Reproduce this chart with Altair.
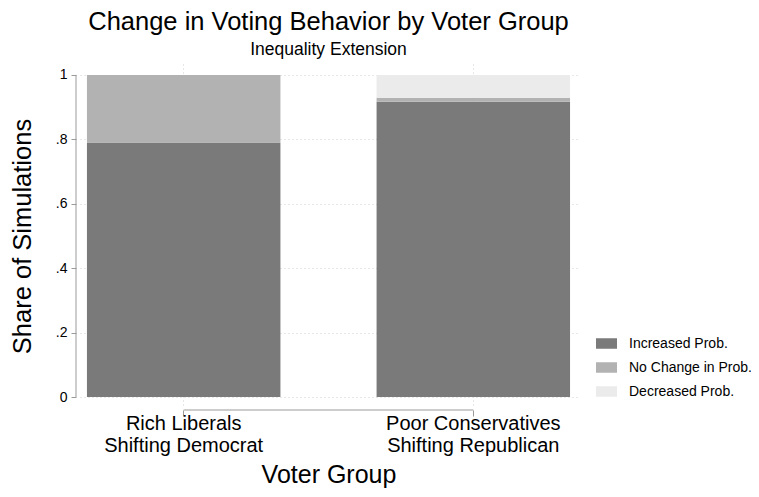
import altair as alt
import pandas as pd

groups = ["Rich Liberals\nShifting Democrat", "Poor Conservatives\nShifting Republican"]
outcomes = ["Increased Prob.", "No Change in Prob.", "Decreased Prob."]
increased = [0.79, 0.917]
no_change = [0.21, 0.012]
decreased = [0.0, 0.071]
y_ticks = [0, 0.2, 0.4, 0.6, 0.8, 1.0]
colors = ["#7a7a7a", "#b2b2b2", "#ebebeb"]

rows = []
for gi, g in enumerate(groups):
    for oi, (o, vals) in enumerate(zip(outcomes, [increased, no_change, decreased])):
        rows.append({"group": g, "outcome": o, "share": vals[gi], "order": oi})
df = pd.DataFrame(rows)

W, H = 497, 344
FONT = "Liberation Sans"
AX = "#9a9a9a"

xscale = alt.Scale(domain=groups, paddingInner=0.332, paddingOuter=0.024)
yscale = alt.Scale(domain=[-0.034, 1.034], nice=False, zero=False)

bars = alt.Chart(df).mark_bar(stroke=None).encode(
    x=alt.X("group:N", scale=xscale, sort=groups,
            axis=alt.Axis(title="Voter Group", domain=False, labelAngle=0,
                          labelExpr="split(datum.label, '\\n')",
                          labelFontSize=20, labelLineHeight=22, labelPadding=-3,
                          tickSize=6, tickColor=AX, offset=2,
                          grid=True, gridDash=[1, 3], gridColor="#cfcfcf",
                          titleFontSize=25, titlePadding=7, titleFontWeight="normal")),
    y=alt.Y("share:Q", scale=yscale, stack="zero",
            axis=alt.Axis(title="Share of Simulations", values=y_ticks, domain=False,
                          labelExpr="datum.value == 0 ? '0' : datum.value == 1 ? '1' : replace(format(datum.value, '.1f'), '0.', '.')",
                          labelFontSize=14, labelPadding=4, tickSize=5, tickColor=AX, offset=4,
                          grid=True, gridDash=[1, 3], gridColor="#cfcfcf",
                          titleFontSize=25.5, titlePadding=20, titleFontWeight="normal")),
    color=alt.Color("outcome:N", scale=alt.Scale(domain=outcomes, range=colors),
                    legend=alt.Legend(title=None, orient="none", legendX=516, legendY=269,
                                      symbolType="M-1,-0.5H1V0.5H-1Z", symbolSize=441,
                                      symbolStrokeWidth=0, labelFontSize=14, labelOffset=12,
                                      rowPadding=6)),
    order=alt.Order("order:Q"),
)

axis_df = pd.DataFrame({"start": [groups[0]], "end": [groups[1]]})
xline = alt.Chart(axis_df).mark_rule(color=AX, strokeWidth=1).encode(
    x=alt.X("start:N", scale=xscale, bandPosition=0.5),
    x2=alt.X2("end", bandPosition=0.5),
    y=alt.value(H + 2),
)
yline = alt.Chart(pd.DataFrame({"lo": [y_ticks[0]], "hi": [y_ticks[-1]]})).mark_rule(color=AX, strokeWidth=1).encode(
    x=alt.value(-4),
    y=alt.Y("lo:Q", scale=yscale),
    y2="hi:Q",
)

chart = alt.layer(bars, xline, yline).properties(
    width=W, height=H,
    title=alt.TitleParams(text="Change in Voting Behavior by Voter Group",
                          subtitle="Inequality Extension", anchor="middle",
                          fontSize=25.5, subtitleFontSize=17.5, fontWeight="normal",
                          font=FONT, subtitleFont=FONT, color="black", subtitleColor="black",
                          offset=6, subtitlePadding=5),
    autosize=alt.AutoSizeParams(type="none"),
    padding={"left": 72, "top": 56, "right": 174, "bottom": 80},
).configure(font=FONT).configure_view(stroke=None).configure_axis(
    labelColor="black", titleColor="black", labelFont=FONT, titleFont=FONT
).configure_legend(labelColor="black", labelFont=FONT)

chart.save("out.html", embed_options={"renderer": "svg", "actions": False})
